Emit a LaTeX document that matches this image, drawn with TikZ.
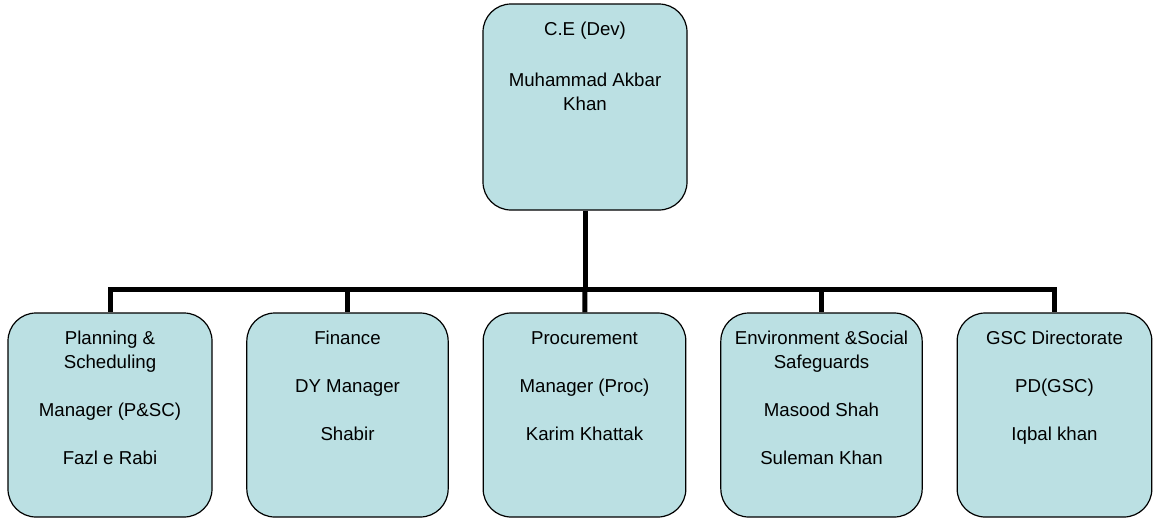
\documentclass[tikz,border=0pt]{standalone}
\usepackage{fontspec}
\setmainfont{Liberation Sans}
\usepackage{xcolor}
\usetikzlibrary{positioning}
\definecolor{boxblue}{RGB}{187,224,227}

\tikzset{
    unit/.style={draw, line width=0.9pt, fill=boxblue, rounded corners=21pt,
        minimum width=153pt, minimum height=153pt, inner sep=0pt},
    caption/.style={align=center, inner sep=0pt, font=\fontsize{14}{18}\selectfont},
    bus/.style={line width=3.75pt},
}

\begin{document}
\begin{tikzpicture}[x=0.75pt, y=-0.75pt]
    \useasboundingbox (0,0) rectangle (1154,519);

    \node[unit, minimum height=154.5pt] (ce) at (585, 107) {};
    \node[unit] (plan) at (110, 415) {};
    \node[unit, minimum width=151pt] (fin) at (347.5, 415) {};
    \node[unit, minimum width=152pt] (proc) at (584.5, 415) {};
    \node[unit, minimum width=151pt] (env) at (821.5, 415) {};
    \node[unit, minimum width=146pt] (gsc) at (1054.5, 415) {};

    \node[caption, below=14pt of ce.north] (ce text) {C.E (Dev)\\[20pt] Muhammad Akbar\\ Khan};
    \node[caption, below=14pt of plan.north] (plan text) {Planning \&\\ Scheduling\\[18pt] Manager (P\&SC)\\[18pt] Fazl e Rabi};
    \node[caption, below=14pt of fin.north] (fin text) {Finance\\[18pt] DY Manager\\[18pt] Shabir};
    \node[caption, below=14pt of proc.north] (proc text) {Procurement\\[18pt] Manager (Proc)\\[18pt] Karim Khattak};
    \node[caption, below=14pt of env.north] (env text) {Environment \&Social\\ Safeguards\\[18pt] Masood Shah\\[18pt] Suleman Khan};
    \node[caption, below=14pt of gsc.north] (gsc text) {GSC Directorate\\[18pt] PD(GSC)\\[18pt] Iqbal khan};

    \coordinate (hub) at (585, 289.5);

    \draw[bus] (ce) -- (hub);
    \draw[bus] (hub) -| (plan);
    \draw[bus] (hub) -| (fin);
    \draw[bus] (hub) -- (proc);
    \draw[bus] (hub) -| (env);
    \draw[bus] (hub) -| (gsc);
\end{tikzpicture}
\end{document}
